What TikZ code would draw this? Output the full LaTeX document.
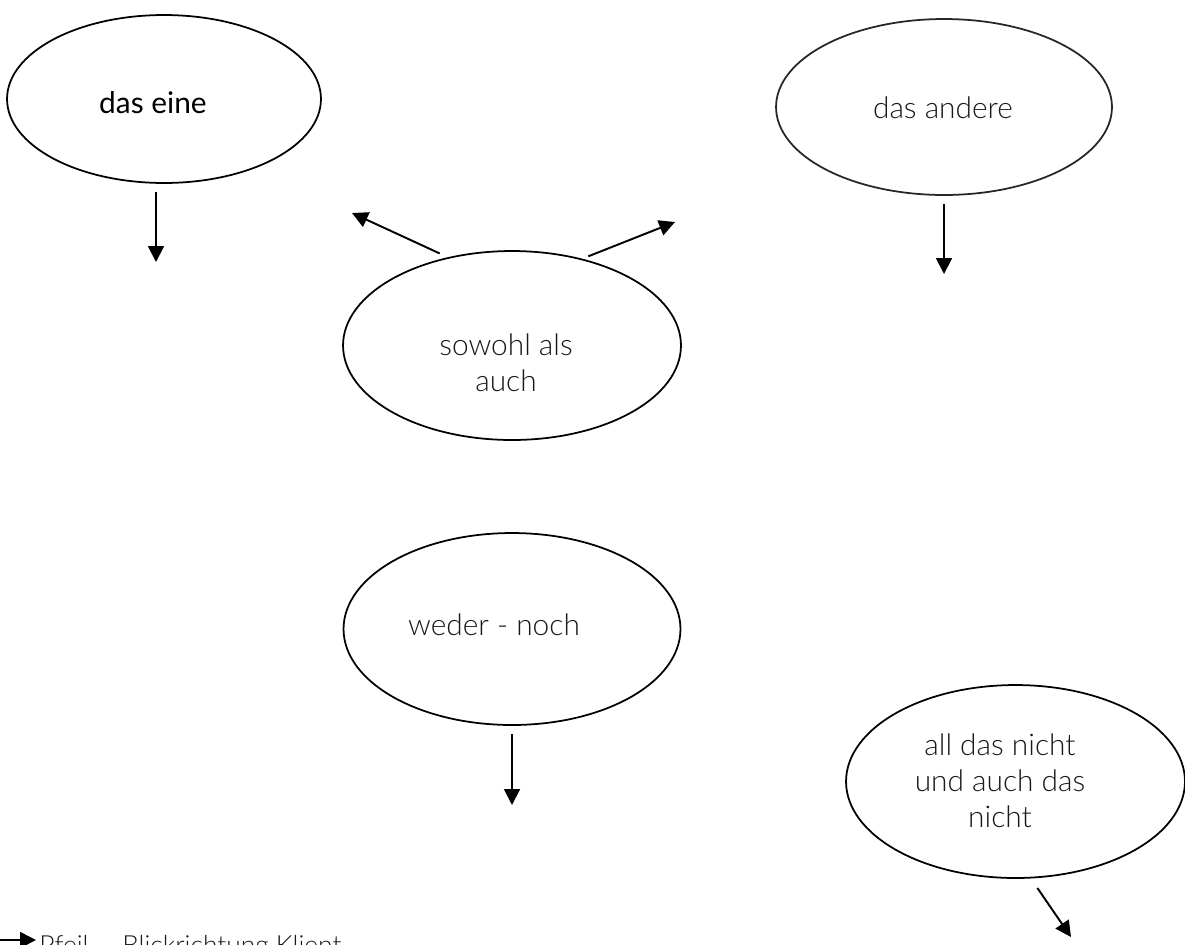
\documentclass[tikz,border=0pt]{standalone}
\usepackage{fontspec}
\setmainfont{Lato}
\newfontfamily\thin{Lato Light}
\usetikzlibrary{shapes.geometric,arrows.meta}

\begin{document}
\begin{tikzpicture}[x=0.02cm,y=-0.02cm,
    bub/.style={ellipse,draw,line width=1pt,inner sep=0pt},
    lbl/.style={font=\thin\fontsize{17}{20.5}\selectfont,text=black!90,align=center,inner sep=0pt},
    arr/.style={-{Triangle[length=9pt,width=9pt]},line width=1.1pt}]
  \useasboundingbox (0,0) rectangle (1185,944);
  \clip (0,0) rectangle (1185,944);

  % the five bubbles
  \node[bub,minimum width=6.28cm,minimum height=3.36cm] (eine) at (164,99) {};
  \node[bub,draw=black!85,minimum width=6.72cm,minimum height=3.52cm] (andere) at (944,107) {};
  \node[bub,minimum width=6.76cm,minimum height=3.78cm] (sowohl) at (512,345.5) {};
  \node[bub,minimum width=6.74cm,minimum height=3.84cm] (weder) at (512,629) {};
  \node[bub,minimum width=6.78cm,minimum height=3.86cm] (nicht) at (1015.5,781.5) {};

  % texts
  \node[lbl,font=\fontsize{17}{20}\selectfont,text=black,anchor=base] at (153,113) {das eine};
  \node[lbl,anchor=base] at (943,118) {das andere};
  \node[lbl] at (506,363) {sowohl als\\auch};
  \node[lbl,anchor=base] at (494,635) {weder - noch};
  \node[lbl] at (1000,781) {all das nicht\\und auch das\\nicht};
  \node[lbl,font=\thin\fontsize{15}{18}\selectfont,anchor=base west] (legend) at (39,954) {Pfeil -- Blickrichtung Klient};

  % arrow tips
  \coordinate (e1) at (156,262);
  \coordinate (a1) at (944,274);
  \coordinate (s1) at (352,213);
  \coordinate (s2) at (675,222);
  \coordinate (w1) at (512,805);
  \coordinate (n1) at (1071,937);
  \coordinate (lg0) at (0,940);
  \coordinate (lg1) at (36,940);

  \draw[arr,shorten <=0.16cm] (eine.south -| e1) -- (e1);
  \draw[arr,shorten <=0.16cm] (andere.south) -- (a1);
  \draw[arr,shorten <=0.18cm] (sowohl.126) -- (s1);
  \draw[arr,shorten <=0.13cm] (sowohl.51) -- (s2);
  \draw[arr,shorten <=0.16cm] (weder.south) -- (w1);
  \draw[arr,shorten <=0.23cm] (nicht.279) -- (n1);
  \draw[arr] (lg0) -- (lg1);
\end{tikzpicture}
\end{document}
